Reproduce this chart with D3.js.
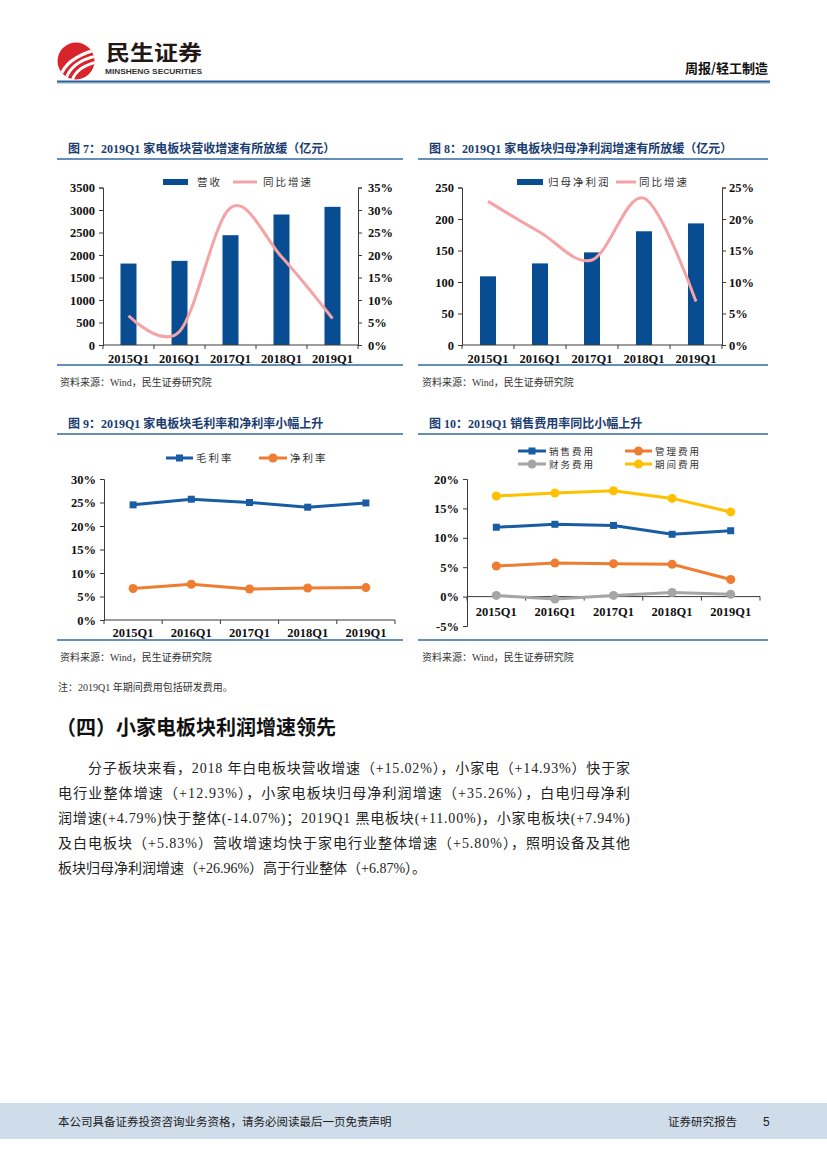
<!DOCTYPE html>
<html><head><meta charset="utf-8">
<script src="https://cdn.jsdelivr.net/npm/d3@7/dist/d3.min.js"></script>
<style>
body{margin:0;background:#fff;}
svg{display:block;}
.num{font-family:"Liberation Serif","Times New Roman",serif;font-weight:bold;font-size:12.5px;fill:#111;}
.cjk{font-family:"Noto Sans CJK SC",sans-serif;}
</style></head>
<body>
<svg id="page" width="827" height="1169"></svg>
<script>
// ---------- data ----------
const categories = ["2015Q1","2016Q1","2017Q1","2018Q1","2019Q1"];
const revenue = [1810, 1870, 2440, 2900, 3070];
const revenueGrowth = [0.065, 0.030, 0.305, 0.196, 0.059];
const profit = [109, 129.5, 147, 180.5, 193];
const profitGrowth = [0.228, 0.179, 0.135, 0.233, 0.069];
const grossMargin = [0.245, 0.257, 0.250, 0.240, 0.249];
const netMargin = [0.067, 0.076, 0.066, 0.068, 0.069];
const sellExp = [0.118, 0.123, 0.121, 0.106, 0.112];
const adminExp = [0.052, 0.057, 0.056, 0.055, 0.029];
const finExp = [0.002, -0.004, 0.002, 0.007, 0.004];
const periodExp = [0.171, 0.176, 0.180, 0.167, 0.144];
const revTicks = [0,500,1000,1500,2000,2500,3000,3500];
const revPctTicks = [0,0.05,0.10,0.15,0.20,0.25,0.30,0.35];
const profitTicks = [0,50,100,150,200,250];
const profitPctTicks = [0,0.05,0.10,0.15,0.20,0.25];
const marginTicks = [0,0.05,0.10,0.15,0.20,0.25,0.30];
const expTicks = [-0.05,0,0.05,0.10,0.15,0.20];

const svg = d3.select("#page");
const pct = d => Math.round(d*100) + "%";
const intFmt = d3.format("d");
const AX = "#3a3a3a";
const TITLE_C = "#1b3d6f";
const RULE_C = "#2f6aa3";

// ---------- header ----------
const defs = svg.append("defs");
defs.append("clipPath").attr("id","logoClip").append("circle").attr("cx",76).attr("cy",61).attr("r",18.5);
const logo = svg.append("g");
logo.append("circle").attr("cx",76).attr("cy",61).attr("r",18.5).attr("fill","#d8242b");
const lg = logo.append("g").attr("clip-path","url(#logoClip)");
[["M60,77 Q66,58 95,50",3.2],["M66,79 Q71,62 96,56",3.0],["M72,81 Q76,67 97,62",2.8]].forEach(([d,w])=>{
  lg.append("path").attr("d",d).attr("fill","none").attr("stroke","#fff").attr("stroke-width",w).attr("stroke-linecap","round");
});
svg.append("text").attr("class","cjk").attr("x",106).attr("y",60).attr("font-size",21).attr("font-weight","bold")
  .attr("textLength",96).attr("lengthAdjust","spacingAndGlyphs").attr("fill","#231815").text("民生证券");
svg.append("text").attr("x",105).attr("y",74).attr("font-family","Liberation Sans, Arial, sans-serif").attr("font-weight","bold").attr("font-size",8).attr("textLength",97).attr("lengthAdjust","spacingAndGlyphs").attr("fill","#333").text("MINSHENG SECURITIES");
svg.append("text").attr("class","cjk").attr("x",768).attr("y",73).attr("text-anchor","end").attr("font-size",13).attr("font-weight","bold").attr("fill","#111").text("周报/轻工制造");
svg.append("rect").attr("x",57).attr("y",80.5).attr("width",713).attr("height",2.2).attr("fill","#2b64a3");
svg.append("rect").attr("x",57).attr("y",82.7).attr("width",713).attr("height",0.8).attr("fill","#9aa8b8");

// ---------- helpers ----------
function frame(x0, x1, yTitle, yRule, yBottom, title) {
  svg.append("text").attr("x", x0+11).attr("y", yTitle).attr("font-size",12).attr("font-weight","bold")
    .attr("font-family","Liberation Serif, Noto Sans CJK SC, serif").attr("fill",TITLE_C).text(title);
  svg.append("line").attr("x1",x0).attr("x2",x1).attr("y1",yRule).attr("y2",yRule).attr("stroke",RULE_C).attr("stroke-width",1.6);
  svg.append("line").attr("x1",x0).attr("x2",x1).attr("y1",yBottom).attr("y2",yBottom).attr("stroke",RULE_C).attr("stroke-width",1.6);
}
function source(x, y) {
  svg.append("text").attr("x",x).attr("y",y).attr("font-size",10).attr("fill","#333")
    .attr("font-family","Liberation Serif, Noto Sans CJK SC, serif").text("资料来源：Wind，民生证券研究院");
}
function styleAxis(g) {
  g.selectAll("path,line").attr("stroke",AX).attr("stroke-width",1);
  g.selectAll("text").attr("class","num");
}
function xAxisBand(g, x, y, labelY) {
  const bounds = d3.range(categories.length+1).map(i => x.range()[0] + i*x.step());
  g.append("line").attr("x1",x.range()[0]).attr("x2",x.range()[1]).attr("y1",y).attr("y2",y).attr("stroke",AX);
  g.selectAll(".bt").data(bounds).join("line").attr("x1",d=>d).attr("x2",d=>d).attr("y1",y).attr("y2",y+4).attr("stroke",AX);
  g.selectAll(".xl").data(categories).join("text").attr("class","num")
    .attr("x",d=>x(d)+x.bandwidth()/2).attr("y",labelY).attr("text-anchor","middle").text(d=>d);
}
function legendText(x, y, t, fs) {
  svg.append("text").attr("class","cjk").attr("x",x).attr("y",y+3.5).attr("font-size",fs||10.5)
    .attr("letter-spacing","2px").attr("fill","#333").text(t);
}
function marker(sel, type, color) {
  if (type === "square") {
    sel.append("rect").attr("width",7).attr("height",7).attr("x",-3.5).attr("y",-3.5).attr("fill",color);
  } else {
    sel.append("circle").attr("r",4.5).attr("fill",color);
  }
}
function legendLine(x1, x2, y, color, type, label, fs) {
  svg.append("line").attr("x1",x1).attr("x2",x2).attr("y1",y).attr("y2",y).attr("stroke",color).attr("stroke-width",3);
  if (type) marker(svg.append("g").attr("transform",`translate(${(x1+x2)/2},${y})`), type, color);
  legendText(x2+3, y, label, fs);
}

// ---------- chart 7 ----------
frame(57, 403, 153, 159, 365, "图 7：2019Q1 家电板块营收增速有所放缓（亿元）");
(function(){
  const x = d3.scaleBand().domain(categories).range([103,358]);
  const yL = d3.scaleLinear().domain([0,3500]).range([345,187.5]);
  const yR = d3.scaleLinear().domain([0,0.35]).range([345,187.5]);
  const g = svg.append("g");
  const bw = 16;
  g.selectAll(".bar").data(revenue).join("rect")
    .attr("x",(d,i)=>x(categories[i])+x.bandwidth()/2-bw/2).attr("width",bw)
    .attr("y",d=>yL(d)).attr("height",d=>yL(0)-yL(d)).attr("fill","#084d92");
  g.append("path").datum(revenueGrowth)
    .attr("d", d3.line().x((d,i)=>x(categories[i])+x.bandwidth()/2).y(d=>yR(d)).curve(d3.curveCardinal.tension(0)))
    .attr("fill","none").attr("stroke","#f4a3a6").attr("stroke-width",3);
  g.append("g").attr("transform","translate(103,0)").call(d3.axisLeft(yL).tickValues(revTicks).tickFormat(intFmt).tickSize(4).tickPadding(4)).call(styleAxis);
  g.append("g").attr("transform","translate(358,0)").call(d3.axisRight(yR).tickValues(revPctTicks).tickFormat(pct).tickSize(4).tickPadding(6)).call(styleAxis);
  xAxisBand(g, x, 345, 363);
  svg.append("rect").attr("x",163).attr("y",179).attr("width",25).attr("height",6).attr("fill","#084d92");
  legendText(197, 182, "营收");
  svg.append("line").attr("x1",233).attr("x2",257).attr("y1",182).attr("y2",182).attr("stroke","#f4a3a6").attr("stroke-width",3);
  legendText(263, 182, "同比增速");
})();
source(60, 386);

// ---------- chart 8 ----------
frame(418, 768, 153, 159, 365, "图 8：2019Q1 家电板块归母净利润增速有所放缓（亿元）");
(function(){
  const x = d3.scaleBand().domain(categories).range([462,722]);
  const yL = d3.scaleLinear().domain([0,250]).range([345,187.5]);
  const yR = d3.scaleLinear().domain([0,0.25]).range([345,187.5]);
  const g = svg.append("g");
  const bw = 16;
  g.selectAll(".bar").data(profit).join("rect")
    .attr("x",(d,i)=>x(categories[i])+x.bandwidth()/2-bw/2).attr("width",bw)
    .attr("y",d=>yL(d)).attr("height",d=>yL(0)-yL(d)).attr("fill","#084d92");
  g.append("path").datum(profitGrowth)
    .attr("d", d3.line().x((d,i)=>x(categories[i])+x.bandwidth()/2).y(d=>yR(d)).curve(d3.curveCardinal.tension(0)))
    .attr("fill","none").attr("stroke","#f4a3a6").attr("stroke-width",3);
  g.append("g").attr("transform","translate(462,0)").call(d3.axisLeft(yL).tickValues(profitTicks).tickFormat(intFmt).tickSize(4).tickPadding(4)).call(styleAxis);
  g.append("g").attr("transform","translate(722,0)").call(d3.axisRight(yR).tickValues(profitPctTicks).tickFormat(pct).tickSize(4).tickPadding(3)).call(styleAxis);
  xAxisBand(g, x, 345, 363);
  svg.append("rect").attr("x",517).attr("y",179).attr("width",26).attr("height",6).attr("fill","#084d92");
  legendText(548, 182, "归母净利润");
  svg.append("line").attr("x1",616).attr("x2",636).attr("y1",182).attr("y2",182).attr("stroke","#f4a3a6").attr("stroke-width",3);
  legendText(639, 182, "同比增速");
})();
source(422, 386);

// ---------- chart 9 ----------
frame(57, 403, 428, 434, 640, "图 9：2019Q1 家电板块毛利率和净利率小幅上升");
(function(){
  const x = d3.scaleBand().domain(categories).range([104,395]);
  const y = d3.scaleLinear().domain([0,0.30]).range([620,479]);
  const g = svg.append("g");
  const cx = (d,i)=>x(categories[i])+x.bandwidth()/2;
  g.append("g").attr("transform","translate(104,0)").call(d3.axisLeft(y).tickValues(marginTicks).tickFormat(pct).tickSize(4).tickPadding(4)).call(styleAxis);
  xAxisBand(g, x, 620, 637);
  [[grossMargin,"#1a5ca3","square"],[netMargin,"#ee7d31","circle"]].forEach(([data,color,type])=>{
    g.append("path").datum(data).attr("d", d3.line().x(cx).y(d=>y(d)))
      .attr("fill","none").attr("stroke",color).attr("stroke-width",3);
    g.selectAll(null).data(data).join("g").attr("transform",(d,i)=>`translate(${cx(d,i)},${y(d)})`)
      .each(function(){ marker(d3.select(this), type, color); });
  });
  legendLine(166, 193, 458, "#1a5ca3", "square", "毛利率");
  legendLine(259, 287, 458, "#ee7d31", "circle", "净利率");
})();
source(60, 661);

// ---------- chart 10 ----------
frame(418, 768, 428, 434, 640, "图 10：2019Q1 销售费用率同比小幅上升");
(function(){
  const x = d3.scaleBand().domain(categories).range([467,760]);
  const y = d3.scaleLinear().domain([-0.05,0.20]).range([626,479]);
  const g = svg.append("g");
  const cx = (d,i)=>x(categories[i])+x.bandwidth()/2;
  g.append("g").attr("transform","translate(467,0)").call(d3.axisLeft(y).tickValues(expTicks).tickFormat(pct).tickSize(4).tickPadding(4)).call(styleAxis);
  xAxisBand(g, x, y(0), y(0)+19);
  const series = [[finExp,"#a5a5a5"],[adminExp,"#ee7d31"],[sellExp,"#1a5ca3","square"],[periodExp,"#ffc000"]];
  series.forEach(([data,color,type])=>{
    g.append("path").datum(data).attr("d", d3.line().x(cx).y(d=>y(d)))
      .attr("fill","none").attr("stroke",color).attr("stroke-width",3);
    g.selectAll(null).data(data).join("g").attr("transform",(d,i)=>`translate(${cx(d,i)},${y(d)})`)
      .each(function(){ marker(d3.select(this), type||"circle", color); });
  });
  legendLine(518, 546, 451, "#1a5ca3", "square", "销售费用", 9.5);
  legendLine(625, 652, 451, "#ee7d31", "circle", "管理费用", 9.5);
  legendLine(518, 546, 464, "#a5a5a5", "circle", "财务费用", 9.5);
  legendLine(625, 652, 464, "#ffc000", "circle", "期间费用", 9.5);
})();
source(422, 661);

// ---------- notes & body ----------
svg.append("text").attr("x",58).attr("y",691).attr("font-size",10).attr("fill","#333")
  .attr("font-family","Liberation Serif, Noto Sans CJK SC, serif").text("注：2019Q1 年期间费用包括研发费用。");
svg.append("text").attr("class","cjk").attr("x",56).attr("y",735).attr("font-size",20).attr("font-weight","bold").attr("fill","#111").text("（四）小家电板块利润增速领先");
const bodyLines = [
  "分子板块来看，2018 年白电板块营收增速（+15.02%），小家电（+14.93%）快于家",
  "电行业整体增速（+12.93%），小家电板块归母净利润增速（+35.26%），白电归母净利",
  "润增速(+4.79%)快于整体(-14.07%)；2019Q1 黑电板块(+11.00%)，小家电板块(+7.94%)",
  "及白电板块（+5.83%）营收增速均快于家电行业整体增速（+5.80%），照明设备及其他",
  "板块归母净利润增速（+26.96%）高于行业整体（+6.87%）。"
];
bodyLines.forEach((t,i)=>{
  const x0 = i===0 ? 88 : 58;
  const tx = svg.append("text").attr("x",x0).attr("y",773+i*25).attr("font-size",14)
    .attr("font-family","Liberation Serif, Noto Sans CJK SC, serif").attr("fill","#222").text(t);
  if (i < bodyLines.length-1) tx.attr("textLength",630-x0).attr("lengthAdjust","spacing");
});

// ---------- footer ----------
svg.append("rect").attr("x",0).attr("y",1103).attr("width",827).attr("height",36).attr("fill","#cfdcea");
svg.append("text").attr("class","cjk").attr("x",58).attr("y",1126).attr("font-size",11.5).attr("fill","#222").text("本公司具备证券投资咨询业务资格，请务必阅读最后一页免责声明");
svg.append("text").attr("class","cjk").attr("x",668).attr("y",1126).attr("font-size",11.5).attr("fill","#222").text("证券研究报告");
svg.append("text").attr("x",763).attr("y",1126).attr("font-size",12).attr("font-family","Liberation Sans, sans-serif").attr("fill","#222").text("5");
</script>
</body></html>
